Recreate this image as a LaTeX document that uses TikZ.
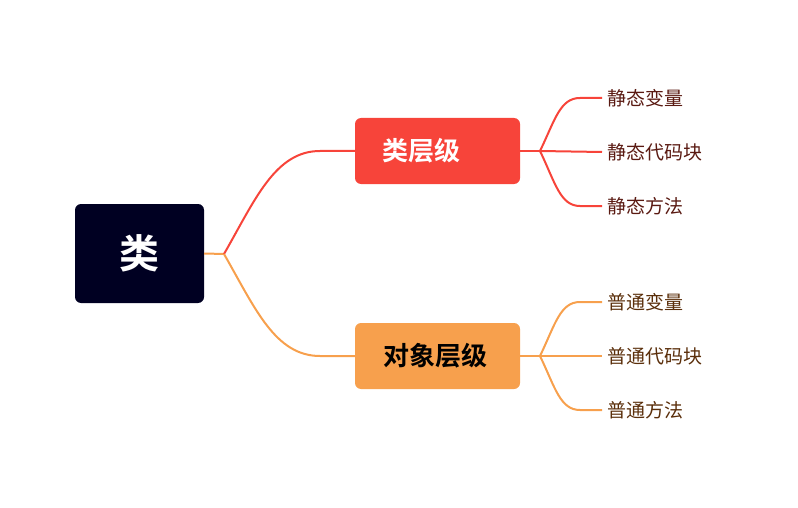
\documentclass[tikz,border=0pt]{standalone}
\usepackage{fontspec}
\setmainfont{Noto Sans CJK SC}
\newfontfamily\cjkb{Noto Sans CJK SC Bold}
\definecolor{navy}{HTML}{000022}
\definecolor{cred}{HTML}{F7443A}
\definecolor{corg}{HTML}{F7A04D}
\definecolor{tred}{HTML}{5A1A12}
\definecolor{torg}{HTML}{5A2E0A}
\begin{document}
\begin{tikzpicture}[x=1pt,y=-1pt,
  box/.style={rounded corners=6pt,minimum width=165pt,minimum height=66pt,inner sep=0pt},
  leaf/.style={anchor=west,font=\fontsize{19}{22}\selectfont,inner sep=0pt},
  link/.style={line width=2pt}]
\useasboundingbox (0,0) rectangle (798,508);
\node[box,fill=navy,minimum width=129pt,minimum height=99pt,text=white,font=\cjkb\fontsize{40}{44}\selectfont] (root) at (139.5,253.5) {类};
\node[box,fill=cred] (a) at (437.5,151) {};
\node[text=white,font=\cjkb\fontsize{26}{30}\selectfont] (at) at (421,151) {类层级};
\node[box,fill=corg] (b) at (437.5,356) {};
\node[text=black,font=\cjkb\fontsize{26}{30}\selectfont] (bt) at (435,356) {对象层级};
\coordinate (r0) at (224,254);
\coordinate (a0) at (320,151);
\coordinate (b0) at (320,356);
\draw[link,corg] (root.east) -- (r0);
\draw[link,cred] (r0) .. controls (255,200) and (275,151) .. (a0) -- (a.west);
\draw[link,corg] (r0) .. controls (255,308) and (275,356) .. (b0) -- (b.west);
\node[leaf,text=tred] (l1) at (607,98) {静态变量};
\node[leaf,text=tred] (l2) at (607,152) {静态代码块};
\node[leaf,text=tred] (l3) at (607,206) {静态方法};
\node[leaf,text=torg] (m1) at (607,302) {普通变量};
\node[leaf,text=torg] (m2) at (607,356) {普通代码块};
\node[leaf,text=torg] (m3) at (607,410) {普通方法};
\coordinate (pa) at (540,151);
\coordinate (pb) at (540,356);
\draw[link,cred] (a.east) -- (pa);
\draw[link,corg] (b.east) -- (pb);
\draw[link,cred] (pa) .. controls (555,120) and (560,98) .. (580,98) -- ([xshift=-5pt]l1.west);
\draw[link,cred] (pa) -- ([xshift=-5pt]l2.west);
\draw[link,cred] (pa) .. controls (555,182) and (560,206) .. (580,206) -- ([xshift=-5pt]l3.west);
\draw[link,corg] (pb) .. controls (555,325) and (560,302) .. (580,302) -- ([xshift=-5pt]m1.west);
\draw[link,corg] (pb) -- ([xshift=-5pt]m2.west);
\draw[link,corg] (pb) .. controls (555,387) and (560,410) .. (580,410) -- ([xshift=-5pt]m3.west);
\end{tikzpicture}
\end{document}
